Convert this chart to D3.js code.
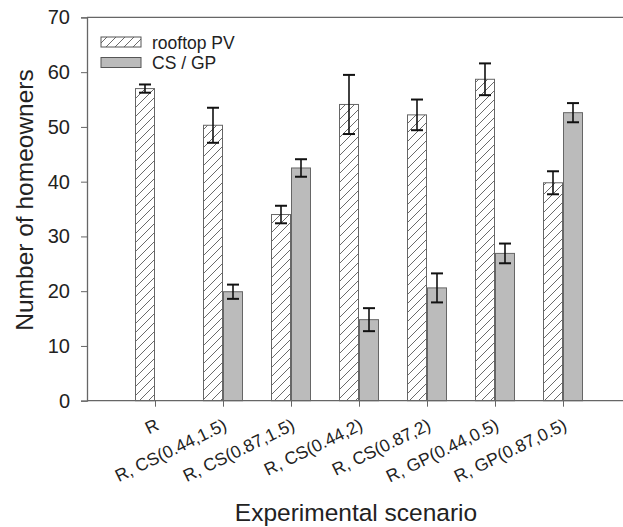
<!DOCTYPE html>
<html>
<head>
<meta charset="utf-8">
<script src="https://cdn.jsdelivr.net/npm/d3@7"></script>
<style>
  body { margin: 0; background: #fff; }
  text { font-family: "Liberation Sans", Arial, sans-serif; fill: #222; }
</style>
</head>
<body>
<svg id="chart" width="623" height="527"></svg>
<script>
// scenario categories
var scenarios = ["R", "R, CS(0.44,1.5)", "R, CS(0.87,1.5)", "R, CS(0.44,2)",
                 "R, CS(0.87,2)", "R, GP(0.44,0.5)", "R, GP(0.87,0.5)"];
// rooftop PV (mean, error)
var pvValues = [57.0, 50.3, 34.0, 54.1, 52.2, 58.7, 39.8];
var pvErrors = [0.75, 3.2, 1.6, 5.4, 2.8, 2.9, 2.1];
// CS / GP (null = no bar)
var csValues = [null, 19.9, 42.5, 14.8, 20.6, 26.9, 52.6];
var csErrors = [null, 1.3, 1.6, 2.1, 2.65, 1.8, 1.75];
var yTicks = [0, 10, 20, 30, 40, 50, 60, 70];

var svg = d3.select('#chart');
var marginLeft = 87, plotTop = 17.4, plotBottom = 400.7;

// x: categories sit at 1..7, frame goes from 0 to 8 (cropped on the right)
var x = d3.scaleLinear().domain([0, 8]).range([marginLeft, marginLeft + 8 * 68]);
var y = d3.scaleLinear().domain([0, 70]).range([plotBottom, plotTop]);
var barW = 19;

// hatch pattern
var defs = svg.append('defs');
var pat = defs.append('pattern')
  .attr('id', 'hatch')
  .attr('patternUnits', 'userSpaceOnUse')
  .attr('width', 9).attr('height', 9);
pat.append('rect').attr('width', 9).attr('height', 9).attr('fill', '#fff');
pat.append('path')
  .attr('d', 'M0,9 L9,0 M-2,2 L2,-2 M7,11 L11,7')
  .attr('stroke', '#444').attr('stroke-width', 0.8);

// frame top line (extends to the edge)
svg.append('line')
  .attr('x1', marginLeft).attr('x2', 623).attr('y1', plotTop).attr('y2', plotTop)
  .attr('stroke', '#666').attr('stroke-width', 1.3);

// bars
var g = svg.append('g');
pvValues.forEach(function(v, i) {
  g.append('rect')
    .attr('x', x(i + 1) - barW - 0.5)
    .attr('y', y(v))
    .attr('width', barW)
    .attr('height', y(0) - y(v))
    .attr('fill', 'url(#hatch)')
    .attr('stroke', '#666').attr('stroke-width', 1);
});
csValues.forEach(function(v, i) {
  if (v == null) return;
  g.append('rect')
    .attr('x', x(i + 1) + 0.5)
    .attr('y', y(v))
    .attr('width', barW)
    .attr('height', y(0) - y(v))
    .attr('fill', '#bbbbbb')
    .attr('stroke', '#666').attr('stroke-width', 1);
});

// error bars
function drawErr(cx, v, e) {
  var cap = 6;
  g.append('line').attr('x1', cx).attr('x2', cx).attr('y1', y(v + e)).attr('y2', y(v - e))
    .attr('stroke', '#111').attr('stroke-width', 1.6);
  [v + e, v - e].forEach(function(t) {
    g.append('line').attr('x1', cx - cap).attr('x2', cx + cap).attr('y1', y(t)).attr('y2', y(t))
      .attr('stroke', '#111').attr('stroke-width', 2);
  });
}
pvValues.forEach(function(v, i) { drawErr(x(i + 1) - barW / 2 - 0.5, v, pvErrors[i]); });
csValues.forEach(function(v, i) { if (v != null) drawErr(x(i + 1) + barW / 2 + 0.5, v, csErrors[i]); });

// y axis
var yAxis = svg.append('g').attr('transform', 'translate(' + marginLeft + ',0)')
  .call(d3.axisLeft(y).tickValues(yTicks).tickSize(6).tickPadding(11));
yAxis.select('.domain').attr('stroke', '#666').attr('stroke-width', 1.3);
yAxis.selectAll('.tick line').attr('stroke', '#666');
yAxis.selectAll('.tick text').style('font-size', '20px').attr('fill', '#222');

// x axis
var xAxis = svg.append('g').attr('transform', 'translate(0,' + plotBottom + ')')
  .call(d3.axisBottom(x).tickValues(d3.range(1, 8)).tickSize(6).tickFormat(''));
xAxis.select('.domain').remove();
xAxis.append('line').attr('x1', marginLeft).attr('x2', 623).attr('stroke', '#666').attr('stroke-width', 1.3);
xAxis.selectAll('.tick line').attr('stroke', '#666');

svg.append('g').selectAll('text').data(scenarios).enter().append('text')
  .attr('transform', function(d, i) { return 'translate(' + (x(i + 1) + 5) + ',' + 429 + ') rotate(-26)'; })
  .attr('text-anchor', 'end')
  .style('font-size', '17.5px')
  .text(function(d) { return d; });

// axis titles
svg.append('text')
  .attr('transform', 'translate(33,200) rotate(-90)')
  .attr('text-anchor', 'middle')
  .style('font-size', '24.5px')
  .text('Number of homeowners');
svg.append('text')
  .attr('x', 356).attr('y', 521)
  .attr('text-anchor', 'middle')
  .style('font-size', '24.5px')
  .text('Experimental scenario');

// legend
var lg = svg.append('g');
lg.append('rect').attr('x', 101).attr('y', 37).attr('width', 40).attr('height', 10)
  .attr('fill', 'url(#hatch)').attr('stroke', '#555');
lg.append('rect').attr('x', 101).attr('y', 57.5).attr('width', 40).attr('height', 10)
  .attr('fill', '#bbbbbb').attr('stroke', '#555');
lg.append('text').attr('x', 152).attr('y', 48.5).style('font-size', '17.5px').text('rooftop PV');
lg.append('text').attr('x', 152).attr('y', 69).style('font-size', '17.5px').text('CS / GP');
</script>
</body>
</html>
